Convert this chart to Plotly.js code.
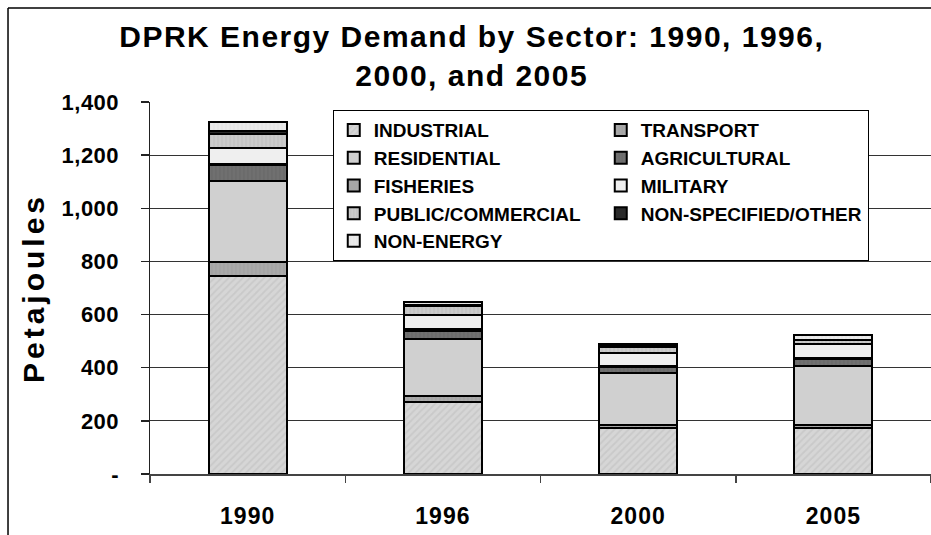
<!DOCTYPE html>
<html>
<head>
<meta charset="utf-8">
<script src="https://cdn.plot.ly/plotly-3.0.1.min.js"></script>
<style>
html,body{margin:0;padding:0;background:#fff;}
#chart{width:931px;height:535px;}
#chart .gtitle{letter-spacing:1.5px;}
#chart .ytitle{letter-spacing:4px;}
#chart .xtick text{letter-spacing:1px;}
#chart .ytick text{letter-spacing:0.5px;}
</style>
</head>
<body>
<div id="chart"></div>
<script>
// Data (petajoules)
const years = ["1990", "1996", "2000", "2005"];
const industrial       = [745, 270, 172, 173];
const transport        = [51, 24, 12, 12];
const residential      = [307, 214, 196, 220];
const agricultural     = [60, 32, 22, 26];
const fisheries        = [5, 5, 5, 5];
const military         = [60, 53, 48, 54];
const publicCommercial = [53, 34, 24, 14];
const nonSpecified     = [9, 3, 4, 2];
const nonEnergy        = [34, 13, 6, 16];

const yTickVals = [0, 200, 400, 600, 800, 1000, 1200, 1400];
const yTickText = ["-", "200", "400", "600", "800", "1,000", "1,200", "1,400"];

const seriesNames = ["INDUSTRIAL", "TRANSPORT", "RESIDENTIAL", "AGRICULTURAL", "FISHERIES",
                     "MILITARY", "PUBLIC/COMMERCIAL", "NON-SPECIFIED/OTHER", "NON-ENERGY"];
const seriesValues = [industrial, transport, residential, agricultural, fisheries,
                      military, publicCommercial, nonSpecified, nonEnergy];
const seriesStyles = [
  {color: "#d6d6d6", pattern: {shape: "/", fgcolor: "#bcbcbc", size: 5, solidity: 0.35}},
  {color: "#a9a9a9", pattern: {shape: "|", fgcolor: "#999999", size: 4, solidity: 0.3}},
  {color: "#d0d0d0"},
  {color: "#707070", pattern: {shape: "|", fgcolor: "#606060", size: 4, solidity: 0.3}},
  {color: "#a6a6a6"},
  {color: "#efefef"},
  {color: "#c4c4c4", pattern: {shape: "|", fgcolor: "#d8d8d8", size: 4, solidity: 0.3}},
  {color: "#2a2a2a"},
  {color: "#e6e6e6", pattern: {shape: "|", fgcolor: "#f4f4f4", size: 4, solidity: 0.3}}
];

const traces = seriesNames.map((name, i) => {
  const m = {color: seriesStyles[i].color, line: {color: "#000", width: 2}};
  if (seriesStyles[i].pattern) {
    m.pattern = Object.assign({fillmode: "overlay"}, seriesStyles[i].pattern);
  }
  return {type: "bar", name: name, x: years, y: seriesValues[i], marker: m,
          width: 0.4, hoverinfo: "skip"};
});

const FONT = "Liberation Sans, Arial, sans-serif";

const layout = {
  width: 931, height: 535,
  margin: {l: 150, r: 0, t: 102, b: 61, autoexpand: false},
  paper_bgcolor: "#fff", plot_bgcolor: "#fff",
  barmode: "stack",
  showlegend: true,
  font: {family: FONT, color: "#000"},
  title: {
    text: "<b>DPRK Energy Demand by Sector: 1990, 1996,<br>2000, and 2005</b>",
    font: {family: FONT, size: 30, color: "#000"},
    x: 0.412, xref: "paper", xanchor: "center",
    y: 0.912, yref: "container", yanchor: "top"
  },
  xaxis: {
    type: "category",
    showline: true, linecolor: "#444", linewidth: 1.5,
    ticks: "outside", tickson: "boundaries", ticklen: 7, tickcolor: "#444", tickwidth: 1.5,
    tickfont: {family: FONT, size: 23, color: "#000", weight: "bold"},
    ticklabelstandoff: 21,
    showgrid: false, zeroline: false, fixedrange: true
  },
  yaxis: {
    range: [0, 1400],
    tickvals: yTickVals, ticktext: yTickText,
    showline: true, linecolor: "#222", linewidth: 1.5,
    ticks: "outside", ticklen: 8, tickcolor: "#222", tickwidth: 1.5,
    tickfont: {family: FONT, size: 22, color: "#000", weight: "bold"},
    ticklabelstandoff: 17,
    showgrid: true, gridcolor: "#333", gridwidth: 1,
    zeroline: false, fixedrange: true,
    title: {text: "<b>Petajoules</b>", font: {family: FONT, size: 30, color: "#000"}, standoff: 10}
  },
  legend: {
    orientation: "h",
    x: 0.234, xanchor: "left", y: 0.978, yanchor: "top",
    entrywidth: 222, entrywidthmode: "pixels",
    traceorder: "normal",
    bgcolor: "#fff", bordercolor: "#000", borderwidth: 1,
    font: {family: FONT, size: 19, color: "#000", weight: "bold"},
    itemwidth: 30
  },
  shapes: [
    {type: "line", xref: "paper", yref: "paper", x0: -0.1818, x1: -0.1818, y0: 1.2527, y1: -0.2,
     line: {color: "#000", width: 1.5}},
    {type: "line", xref: "paper", yref: "paper", x0: -0.1818, x1: 1.0, y0: 1.2527, y1: 1.2527,
     line: {color: "#000", width: 1.5}}
  ]
};

Plotly.newPlot("chart", traces, layout, {displayModeBar: false, staticPlot: true});
</script>
</body>
</html>
